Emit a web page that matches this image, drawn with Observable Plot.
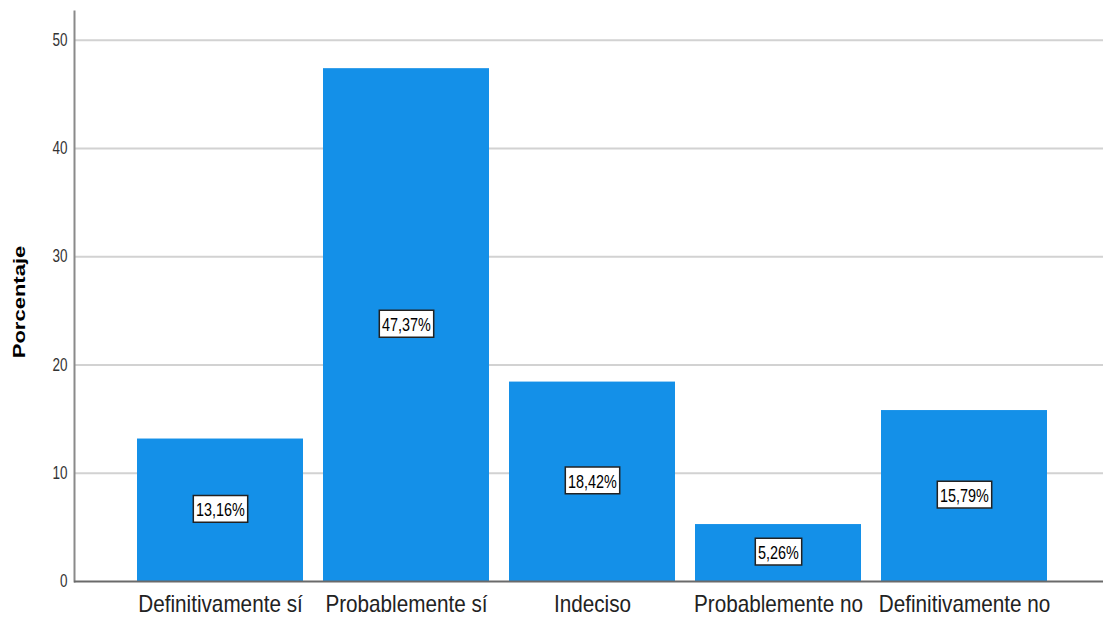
<!DOCTYPE html>
<html>
<head>
<meta charset="utf-8">
<script src="https://cdn.jsdelivr.net/npm/d3@7"></script>
<script src="https://cdn.jsdelivr.net/npm/@observablehq/plot@0.6"></script>
<style>
  html, body { margin: 0; padding: 0; background: #fff; }
  #chart { position: relative; width: 1103px; height: 617px; }
  #ytitle { position: absolute; left: 20px; top: 302px; transform: translate(-50%, -50%) rotate(-90deg) scale(1, 0.76);
    font: bold 22px "Liberation Sans", Arial, sans-serif; color: #000; white-space: nowrap; }
</style>
</head>
<body>
<div id="chart"><div id="ytitle">Porcentaje</div></div>
<script>
const categories = ["Definitivamente sí", "Probablemente sí", "Indeciso", "Probablemente no", "Definitivamente no"];
const values = [13.16, 47.37, 18.42, 5.26, 15.79];
const labels = ["13,16%", "47,37%", "18,42%", "5,26%", "15,79%"];
const yTicks = [0, 10, 20, 30, 40, 50];

const data = categories.map((c, i) => ({cat: c, v: values[i], label: labels[i]}));

const plot = Plot.plot({
  width: 1103,
  height: 617,
  marginLeft: 74,
  marginRight: 0,
  marginTop: 11,
  marginBottom: 36,
  style: {fontFamily: "'Liberation Sans', Arial, sans-serif", background: "#fff"},
  x: {domain: categories, range: [126, 1059], paddingInner: 0.105, paddingOuter: 0.0525, label: null},
  y: {domain: [0, 52.65], label: null},
  marks: [
    Plot.ruleY(yTicks.filter(d => d > 0), {stroke: "#d2d2d2", strokeWidth: 2}),
    Plot.barY(data, {x: "cat", y: "v", fill: "#1490e8"}),
    Plot.frame({anchor: "left", stroke: "#8a8a8a", strokeWidth: 2}),
    Plot.ruleY([0], {stroke: "#6a6a6a", strokeWidth: 2}),
    Plot.axisY({ticks: yTicks, tickSize: 0, tickPadding: 7, fontSize: 18, fill: "#333", label: null, className: "yax"}),
    Plot.axisX({tickSize: 0, tickPadding: 14, fontSize: 23, fill: "#222", label: null, className: "xax"}),
    Plot.text(data, {x: "cat", y: d => d.v / 2, text: "label", fontSize: 18, fill: "#000", className: "vlabel"})
  ]
});

document.getElementById("chart").appendChild(plot);

// horizontally condense text like the reference rendering
function condense(sel, s) {
  d3.select(plot).selectAll(sel).each(function() {
    const xl = this.x && this.x.baseVal;
    const yl = this.y && this.y.baseVal;
    const x = xl && xl.numberOfItems ? xl.getItem(0).value : 0;
    const y = yl && yl.numberOfItems ? yl.getItem(0).value : 0;
    const c = this.transform.baseVal.consolidate();
    const m = c ? c.matrix : {a: 1, b: 0, c: 0, d: 1, e: 0, f: 0};
    this.setAttribute("transform",
      `matrix(${m.a},${m.b},${m.c},${m.d},${m.e},${m.f}) translate(${x},${y}) scale(${s},1) translate(${-x},${-y})`);
  });
}
condense("g.yax text", 0.75);
condense("g.xax text", 0.9);
condense("g.vlabel text", 0.8);

// add white boxes behind value labels
d3.select(plot).selectAll("g.vlabel text").each(function() {
  const b = this.getBBox();
  const padX = 3.5;
  d3.select(this.parentNode).insert("rect", () => this)
    .attr("x", b.x - padX).attr("y", b.y - 4)
    .attr("width", b.width + 2 * padX).attr("height", b.height + 7)
    .attr("transform", this.getAttribute("transform"))
    .attr("fill", "#fff").attr("stroke", "#222").attr("stroke-width", 1.5)
    .attr("vector-effect", "non-scaling-stroke");
});
</script>
</body>
</html>
